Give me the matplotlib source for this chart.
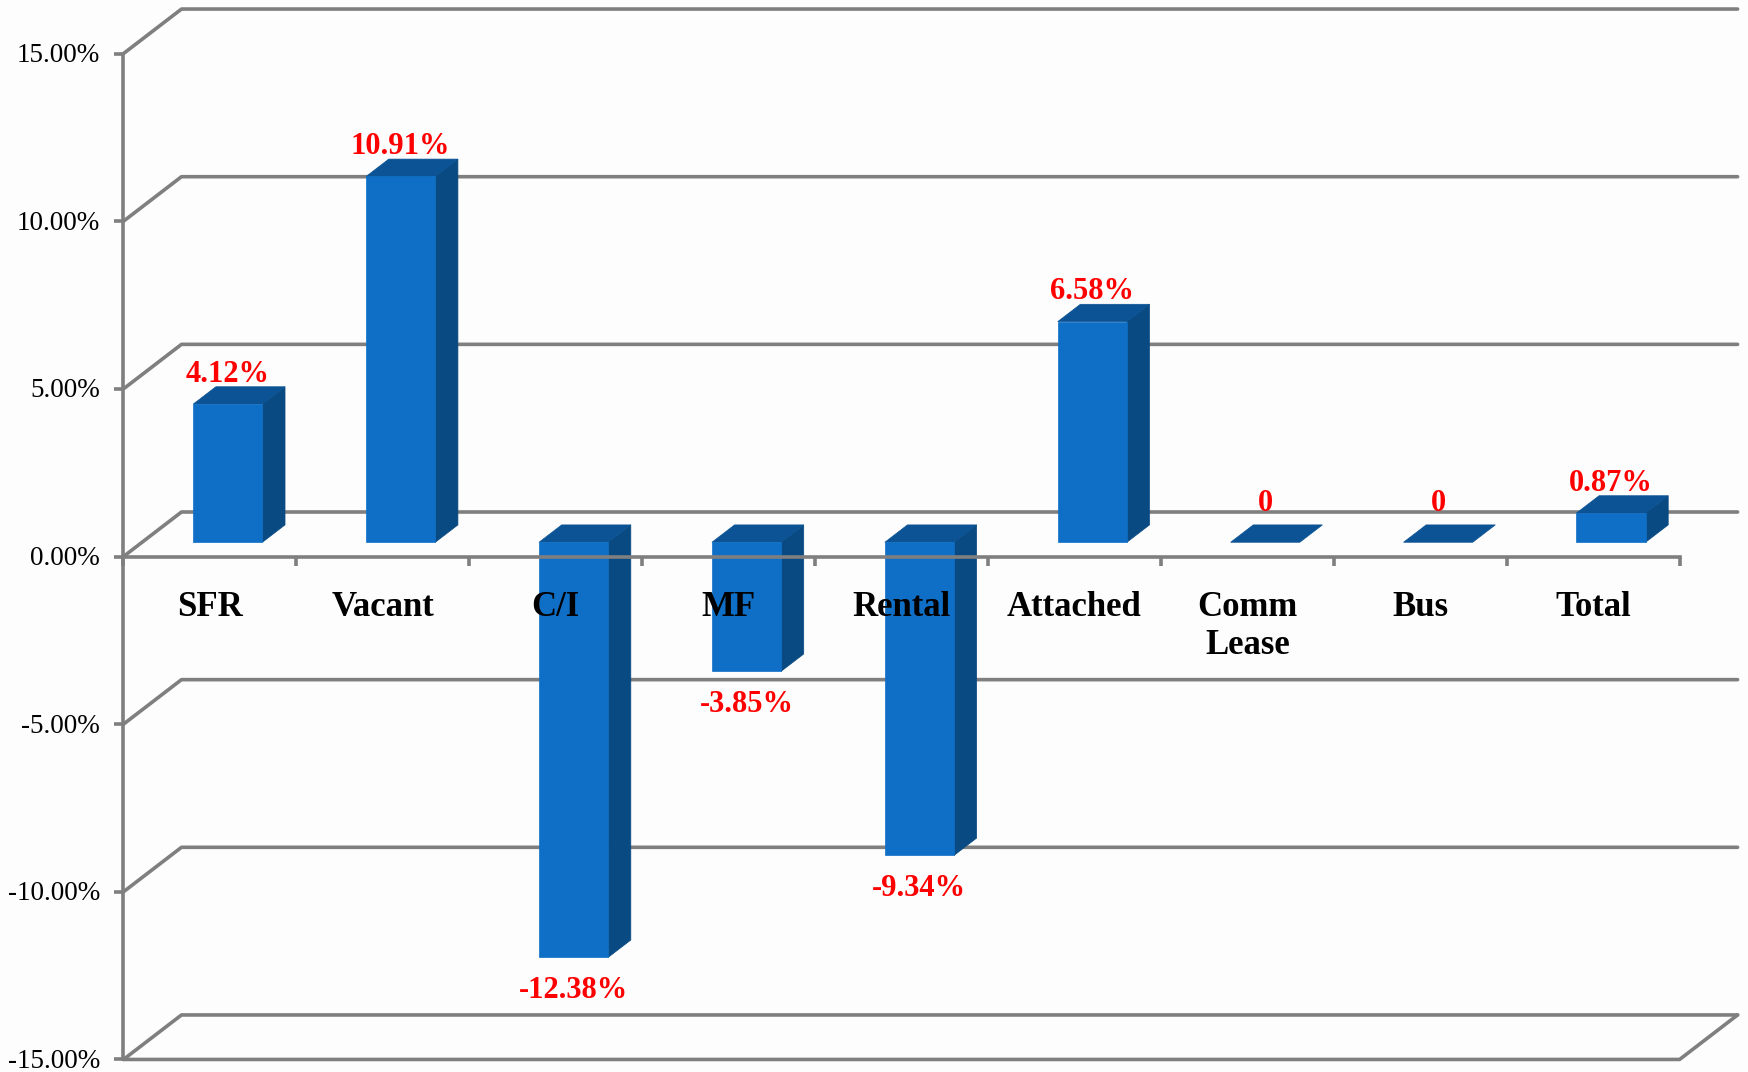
import matplotlib
matplotlib.use("Agg")
import matplotlib.pyplot as plt
from matplotlib.patches import Polygon
from matplotlib.transforms import ScaledTranslation

categories = ["SFR", "Vacant", "C/I", "MF", "Rental", "Attached", "Comm\nLease", "Bus", "Total"]
values = [4.12, 10.91, -12.38, -3.85, -9.34, 6.58, 0, 0, 0.87]
value_labels = ["4.12%", "10.91%", "-12.38%", "-3.85%", "-9.34%", "6.58%", "0", "0", "0.87%"]
y_ticks = [-15, -10, -5, 0, 5, 10, 15]
y_tick_labels = ["-15.00%", "-10.00%", "-5.00%", "0.00%", "5.00%", "10.00%", "15.00%"]

W, H = 1748, 1072
PX_X, PX_Y = 172.9, 33.53      # pixels per category / per percent
X0, Y0 = 123.5, 556.5          # pixel of origin
DX, DY = 58 / PX_X, 44.5 / PX_Y  # full floor depth, in data units
BAR_LEFT, BAR_W = 0.296, 0.40
D_FRONT, D_BACK = 0.32, 0.71

FRONT, TOP, SIDE = "#0F6FC6", "#0B5394", "#094A82"
GRID = "#7F7F7F"
LW = 2.6
plt.rcParams["font.family"] = ["Liberation Serif", "DejaVu Serif"]

fig = plt.figure(figsize=(W / 100, H / 100), dpi=100, facecolor="#FDFDFD")
ax = fig.add_axes([0, 0, 1, 1], facecolor="#FDFDFD")
ax.set_xlim(-X0 / PX_X, (W - X0) / PX_X)
ax.set_ylim((Y0 - H) / PX_Y, Y0 / PX_Y)


def proj(x, v, d):
    return x + d * DX, v + d * DY


# walls: diagonal plus back line for each gridline level
x_end = len(categories)
for t in y_ticks:
    xs = [0, DX, x_end + DX]
    ys = [t, t + DY, t + DY]
    ax.plot(xs, ys, color=GRID, lw=LW, zorder=0.5, solid_capstyle="round", solid_joinstyle="round")
ax.plot([0, x_end, x_end + DX], [-15, -15, -15 + DY], color=GRID, lw=LW, zorder=0.5,
        solid_capstyle="round", solid_joinstyle="round")

# bars
for i, v in enumerate(values):
    x1, x2 = i + BAR_LEFT, i + BAR_LEFT + BAR_W
    top = max(v, 0)
    low = min(v, 0)
    corners = lambda pts: [proj(px, pv, d) for px, pv, d in pts]
    if v != 0:
        ax.add_patch(Polygon(corners([(x2, low, D_FRONT), (x2, low, D_BACK), (x2, top, D_BACK), (x2, top, D_FRONT)]),
                             closed=True, fc=SIDE, ec=SIDE, lw=0.5, zorder=1))
        ax.add_patch(Polygon(corners([(x1, low, D_FRONT), (x2, low, D_FRONT), (x2, top, D_FRONT), (x1, top, D_FRONT)]),
                             closed=True, fc=FRONT, ec=FRONT, lw=0.5, zorder=1.1))
    ax.add_patch(Polygon(corners([(x1, top, D_FRONT), (x2, top, D_FRONT), (x2, top, D_BACK), (x1, top, D_BACK)]),
                         closed=True, fc=TOP, ec=TOP, lw=0.5, zorder=1))
    cx, cy = proj((x1 + x2) / 2, v, D_FRONT)
    off = -33 if v < 0 else (39 if v == 0 else 30)
    ax.annotate(value_labels[i], (cx, cy), xytext=(0, off), textcoords="offset pixels",
                ha="center", va="center", color="#FF0000", fontsize=22, fontweight="bold", zorder=4)

# axes
for s in ["top", "right"]:
    ax.spines[s].set_visible(False)
ax.spines["left"].set_position(("data", 0))
ax.spines["left"].set_bounds(-15, 15)
ax.spines["bottom"].set_position(("data", 0))
ax.spines["bottom"].set_bounds(0, x_end)
for s in ["left", "bottom"]:
    ax.spines[s].set_color(GRID)
    ax.spines[s].set_linewidth(LW)
ax.set_yticks(y_ticks, y_tick_labels)
ax.set_xticks(range(x_end + 1), [""] * (x_end + 1))
ax.set_xticks([i + 0.5 for i in range(x_end)], categories, minor=True)
ax.tick_params(axis="y", length=6.5, width=LW, color=GRID, pad=10.5, labelsize=19.5, labelcolor="#000000")
ax.tick_params(axis="x", which="major", length=6.5, width=LW, color=GRID)
ax.tick_params(axis="x", which="minor", length=0, pad=25, labelsize=25, labelcolor="#000000")
for lab in ax.get_xticklabels(minor=True):
    lab.set_fontweight("bold")
    lab.set_linespacing(1.2)
shift = ScaledTranslation(0, -1.5 / 72, fig.dpi_scale_trans)
for lab in ax.get_yticklabels():
    lab.set_va("center")
    lab.set_transform(lab.get_transform() + shift)

fig.savefig("out.png", dpi=100, facecolor=fig.get_facecolor())
